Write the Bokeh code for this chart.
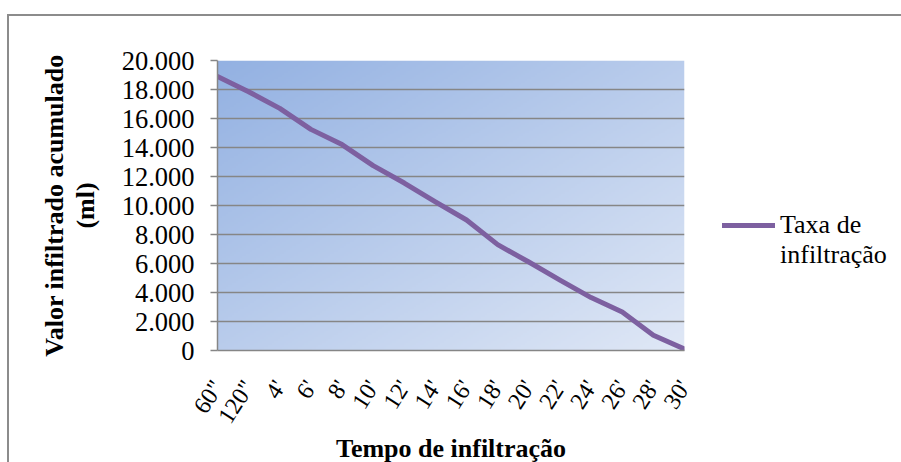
import numpy as np
from bokeh.plotting import figure
from bokeh.models import Range1d, FixedTicker, Legend, LegendItem
from bokeh.embed import file_html
from bokeh.resources import INLINE

# ---------------- data ----------------
x_labels = ['60"', '120"', "4'", "6'", "8'", "10'", "12'", "14'", "16'",
            "18'", "20'", "22'", "24'", "26'", "28'", "30'"]
values = [18900, 17850, 16700, 15250, 14200, 12750, 11550, 10250, 9000,
          7300, 6100, 4850, 3650, 2650, 1050, 100]
y_ticks = [0, 2000, 4000, 6000, 8000, 10000, 12000, 14000, 16000, 18000, 20000]
y_tick_labels = ["0", "2.000", "4.000", "6.000", "8.000", "10.000", "12.000",
                 "14.000", "16.000", "18.000", "20.000"]
legend_lines = ["Taxa de", "infiltração"]
x_title = "Tempo de infiltração"
y_title = "Valor infiltrado acumulado\n(ml)"

FONT = "Liberation Serif"
GRAY = "#868686"
PURPLE = "#7d60a0"

x_pos = list(range(len(x_labels)))
x0, x1 = 0, len(x_labels) - 1
y0, y1 = 0, 20000

p = figure(frame_width=467, frame_height=290, output_backend="svg",
           toolbar_location=None, title=None,
           x_range=Range1d(x0, x1), y_range=Range1d(y0, y1),
           min_border_left=208, min_border_right=216, min_border_top=44,
           min_border_bottom=111)
p.outline_line_color = None
p.background_fill_color = "white"
p.border_fill_color = "white"
p.styles = {"margin-left": "7px", "margin-top": "14px",
            "border-left": "2px solid #8c8c8c",
            "border-top": "2px solid #8c8c8c"}

# gradient plot area background (decoration)
rows, cols = 146, 234
yy, xx = np.mgrid[0:rows, 0:cols]
t = (xx / (cols - 1) + (1 - yy / (rows - 1))) / 2.0
c0 = np.array([147, 177, 226])
c1 = np.array([224, 232, 246])
rgb = c0[None, None, :] * (1 - t[..., None]) + c1[None, None, :] * t[..., None]
img = np.empty((rows, cols), dtype=np.uint32)
view = img.view(dtype=np.uint8).reshape((rows, cols, 4))
view[..., 0] = rgb[..., 0].astype(np.uint8)
view[..., 1] = rgb[..., 1].astype(np.uint8)
view[..., 2] = rgb[..., 2].astype(np.uint8)
view[..., 3] = 255
p.image_rgba(image=[img], x=x0, y=y0, dw=x1 - x0, dh=y1 - y0, level="image")

r = p.line(x_pos, values, line_color=PURPLE, line_width=5,
           line_join="round", line_cap="round")
# empty helper renderer: second line of the legend text only
r_blank = p.line(x=[], y=[], line_alpha=0)

# axes
xa = p.xaxis[0]
xa.ticker = FixedTicker(ticks=x_pos)
xa.major_label_overrides = {i: lab for i, lab in zip(x_pos, x_labels)}
xa.major_label_orientation = 1.0
xa.major_label_text_font = FONT
xa.major_label_text_font_size = "24px"
xa.major_label_text_color = "black"
xa.major_label_standoff = 32
xa.major_tick_out = 0
xa.major_tick_in = 0
xa.minor_tick_line_color = None
xa.axis_line_color = GRAY
xa.axis_line_width = 1.5
xa.axis_label = x_title
xa.axis_label_text_font = FONT
xa.axis_label_text_font_style = "bold"
xa.axis_label_text_font_size = "26px"
xa.axis_label_text_color = "black"
xa.axis_label_standoff = -4

ya = p.yaxis[0]
ya.ticker = FixedTicker(ticks=y_ticks)
ya.major_label_overrides = {v: lab for v, lab in zip(y_ticks, y_tick_labels)}
ya.major_label_text_font = FONT
ya.major_label_text_font_size = "26.5px"
ya.major_label_text_color = "black"
ya.major_label_standoff = 16
ya.major_tick_out = 7
ya.major_tick_in = 0
ya.major_tick_line_color = GRAY
ya.major_tick_line_width = 1.5
ya.minor_tick_line_color = None
ya.axis_line_color = GRAY
ya.axis_line_width = 1.5
ya.axis_label = y_title
ya.axis_label_text_font = FONT
ya.axis_label_text_font_style = "bold"
ya.axis_label_text_font_size = "26px"
ya.axis_label_text_color = "black"
ya.axis_label_text_line_height = 1.05
ya.axis_label_standoff = 19

p.xgrid.grid_line_color = None
p.ygrid.grid_line_color = GRAY
p.ygrid.grid_line_width = 1.6

legend = Legend(items=[LegendItem(label=legend_lines[0], renderers=[r]),
                       LegendItem(label=legend_lines[1], renderers=[r_blank])],
                location=(38, 80), orientation="vertical",
                glyph_width=53, glyph_height=30, label_height=30,
                label_standoff=5, padding=0, margin=0, spacing=0,
                border_line_color=None, background_fill_alpha=0,
                label_text_font=FONT, label_text_font_size="26px",
                label_text_color="black")
p.add_layout(legend, "right")

open("out.html", "w").write(file_html(p, INLINE))
